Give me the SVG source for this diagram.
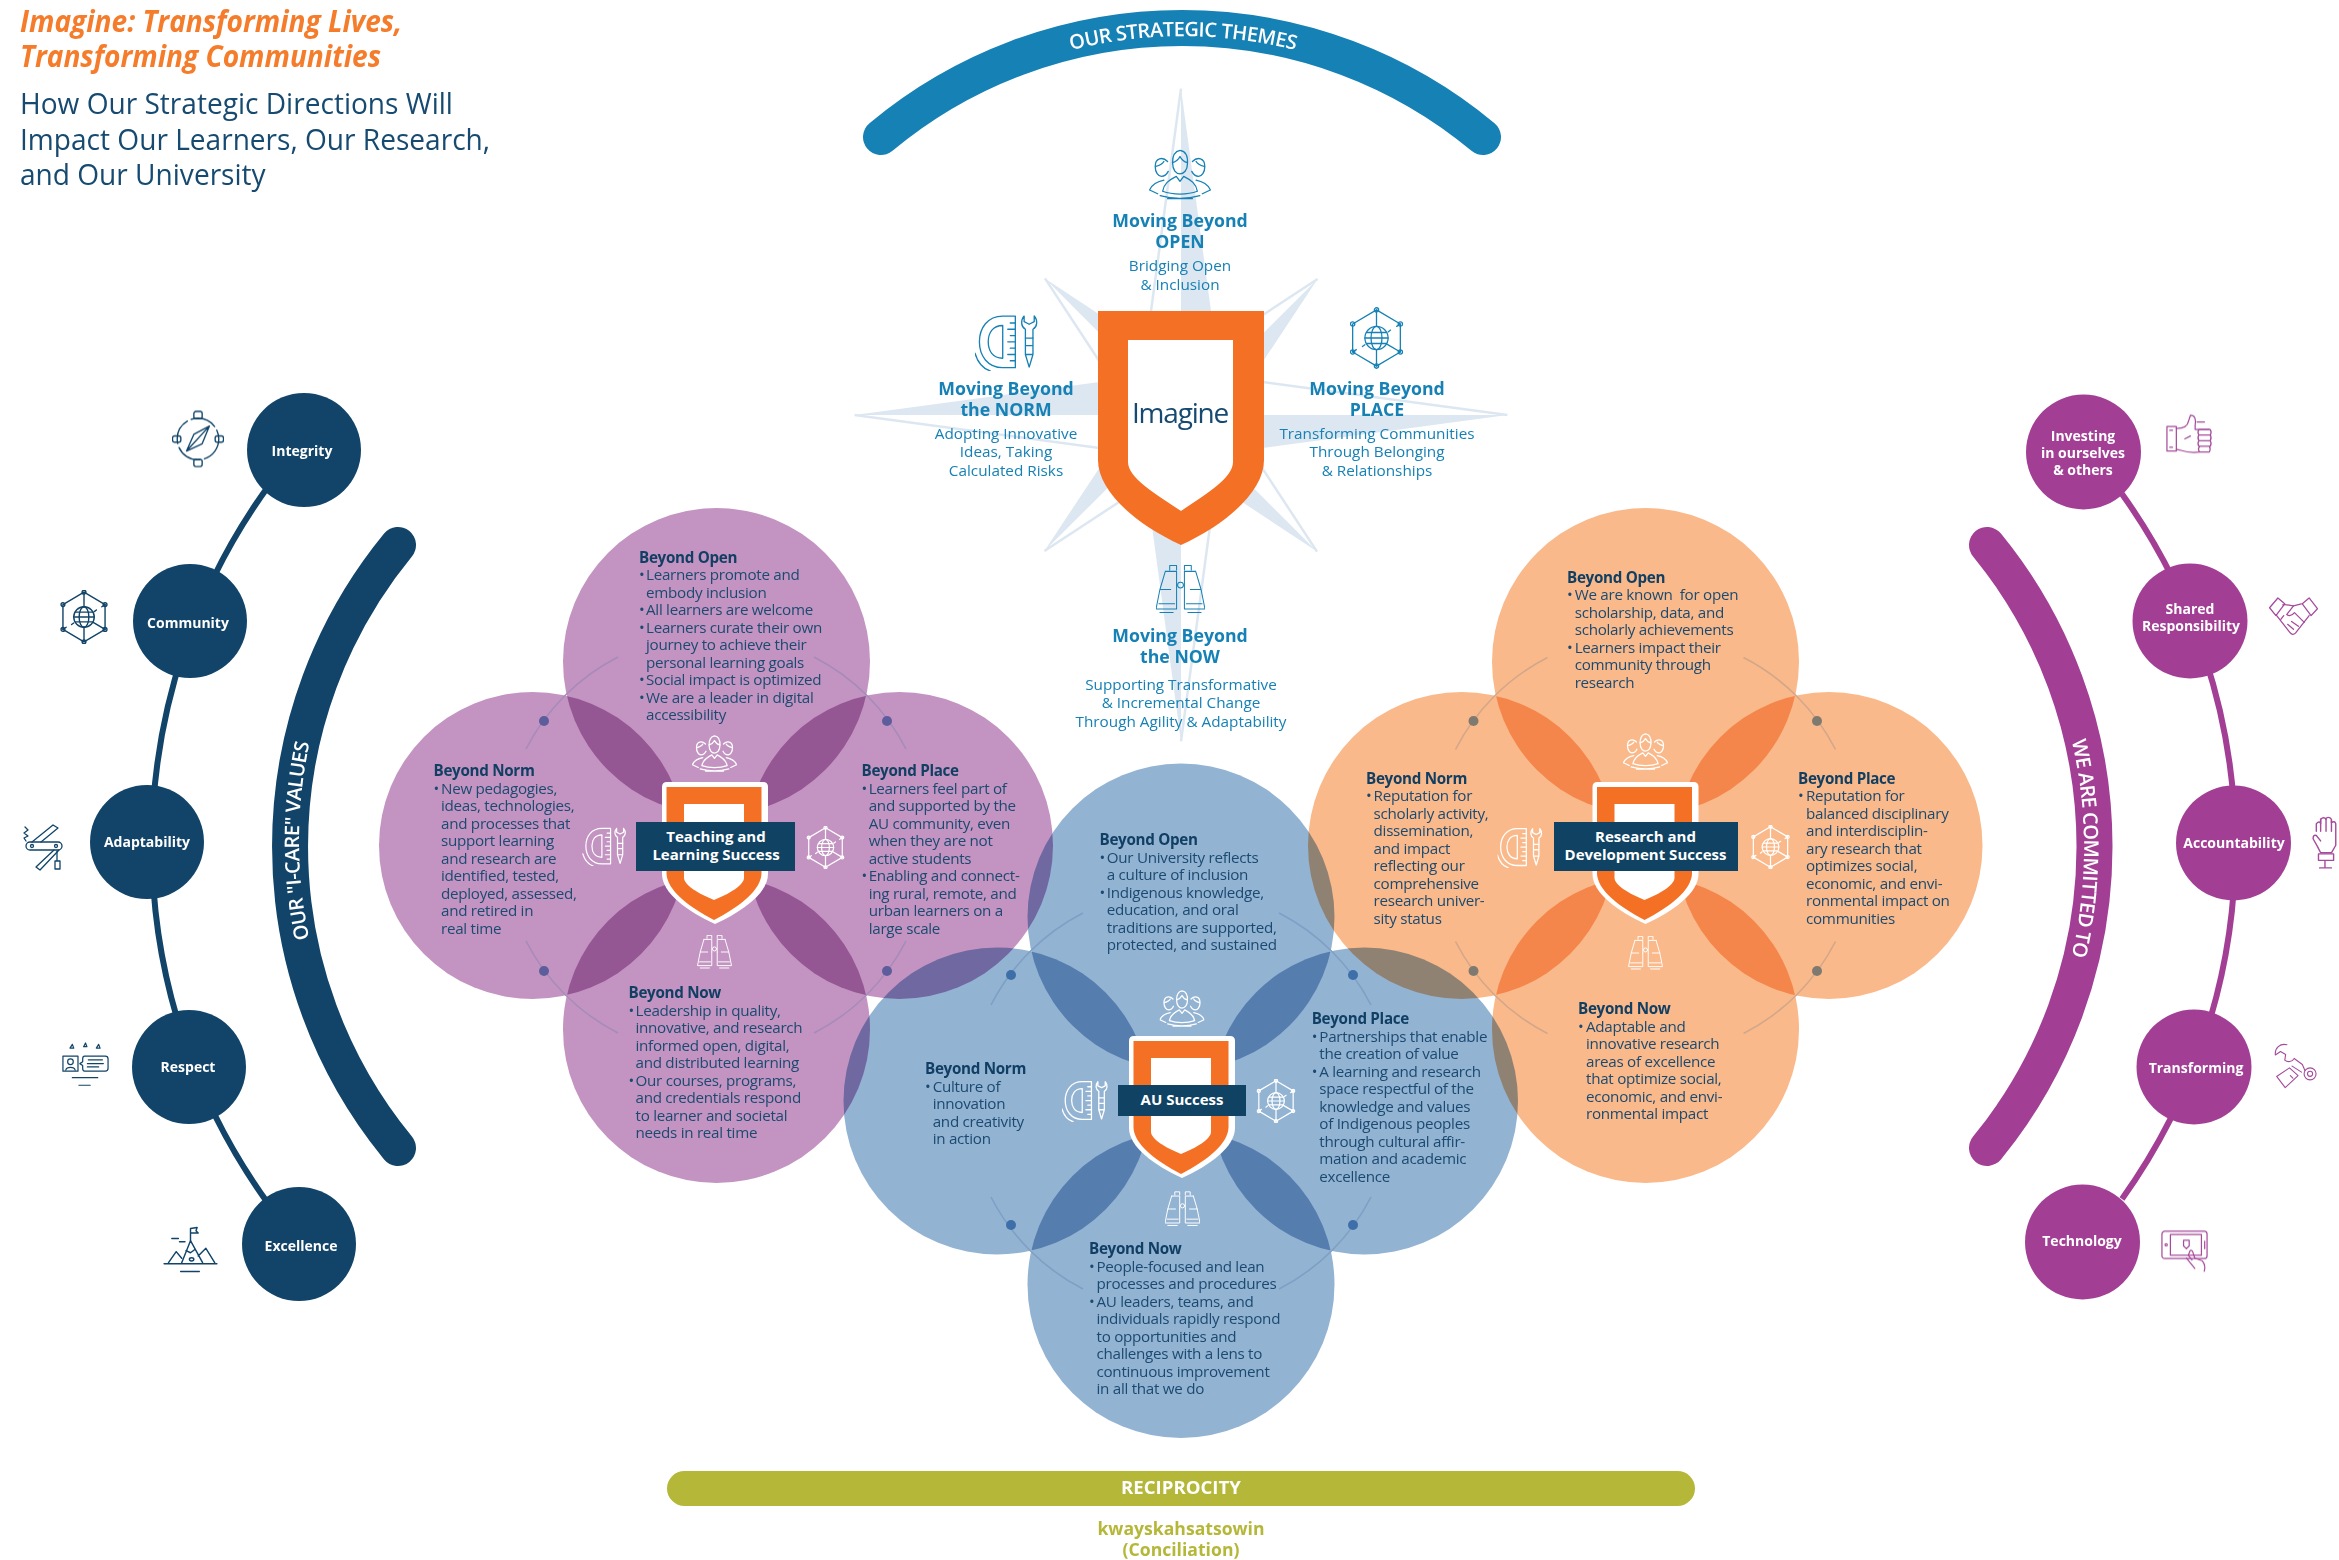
<svg xmlns="http://www.w3.org/2000/svg" width="2339" height="1560" viewBox="0 0 2339 1560">
<style>
text{font-family:"Open Sans","Noto Sans","Liberation Sans",sans-serif}
.bg{fill:#fff}
.c-p{fill:#c394c2;mix-blend-mode:multiply}
.c-b{fill:#93b3d3;mix-blend-mode:multiply}
.c-o{fill:#fab98a;mix-blend-mode:multiply}
.body{font-size:15.2px;letter-spacing:-.28px;fill:#1b4a70}
.head{font-weight:700;font-size:15.2px;letter-spacing:-.3px;fill:#113f63}
.ban{font-weight:700;font-size:15px;fill:#fff;text-anchor:middle}
.banr{fill:#0f4263}
.th{font-weight:700;font-size:17.7px;fill:#1681b5;text-anchor:middle}
.ts{font-size:15.3px;fill:#1681b5;text-anchor:middle}
.val{font-weight:700;font-size:14px;fill:#fff;text-anchor:middle}
.navy{fill:#114468}
.mag{fill:#a23f95}
.ic{fill:none;stroke-linecap:round;stroke-linejoin:round}
use.w{stroke:#fff;stroke-width:2.8}
use.lg{stroke:#1681b5;stroke-width:2.1}
use.nv{stroke:#114468;stroke-width:2.6}
use.mg{stroke:#a54b9b;stroke-width:2.6}
.star{fill:#dde7f1}
.staro{fill:none;stroke:#dde7f1;stroke-width:2.5;stroke-linejoin:round}
.arc{fill:none;stroke-width:1.6}
.bartext{font-size:20px;font-weight:600;fill:#fff;text-anchor:middle}
</style>
<defs>
<path id="sh-top" d="M1181,88.6 L1225,415 L1181,415 Z"/>
<path id="sh-top-o" d="M1181,88.6 L1137,415"/>
<path id="sh-diag" d="M1317.6,279 L1209,443 L1181,415 Z"/>
<path id="sh-diag-o" d="M1317.6,279 L1153,387"/>
<g id="mini-shield">
<path fill="#fff" d="M-48,-63 H48 Q53,-63 53,-58 V29 C53,48 28,66 0,79 C-28,66 -53,48 -53,29 V-58 Q-53,-63 -48,-63 Z"/>
<path fill="#f47024" d="M-48.500,-58 H46.500 V28 C46.500,45 24,62 -1,75 C-26,62 -48.500,45 -48.500,28 Z"/>
<path fill="#fff" d="M-31,-41 H29 V33 C29,40 14,49 -1,55 C-16,49 -31,40 -31,33 Z"/>
</g>
<g id="arcs">
<path class="arc" d="M-98,-188 A212,212 0 0 0 -190,-96 M98,-188 A212,212 0 0 1 190,-96 M-98,188 A212,212 0 0 1 -190,96 M98,188 A212,212 0 0 0 190,96"/>
</g>
<symbol id="i-people" viewBox="0 0 100 82"><g class="ic">
<path d="M38,22 C38,8 44,3 50,2 C58,3 63,10 62,24 C62,34 56,40 50,40 C44,40 38,34 38,22 Z"/>
<path d="M38,22 C44,20 48,16 50,12 C53,18 58,21 62,22"/>
<path d="M22,68 C24,56 32,50 44,44 L50,52 L56,44 C68,50 76,56 78,68 C62,74 38,74 22,68 Z"/>
<path d="M30,20 C22,12 10,14 10,28 C10,38 15,44 20,44 C24,44 28,42 31,36"/><path d="M11,28 C18,26 22,24 24,20"/>
<path d="M70,20 C78,12 90,14 90,28 C90,38 85,44 80,44 C76,44 72,42 69,36"/><path d="M89,28 C82,26 78,24 76,20"/>
<path d="M24,50 C14,52 4,58 1,66 L14,72 M76,50 C86,52 96,58 99,66 L86,72"/>
<path d="M18,75 Q50,84 82,75 M30,80 L70,80"/></g></symbol>
<symbol id="i-tools" viewBox="0 0 100 90"><g class="ic">
<path d="M64,3 H44 C20,3 7,22 7,44 C7,66 20,85 44,85 H64 Z"/>
<path d="M44,18 C28,18 21,30 21,44 C21,58 28,70 44,70 Z"/>
<path d="M56,14 H64 M52,24 H64 M56,34 H64 M52,44 H64 M56,54 H64 M52,64 H64 M56,74 H64"/>
<path d="M0,62 C4,76 12,86 24,90"/>
<path d="M78,3 C72,10 73,20 80,24 V38 H92 V24 C99,20 100,10 94,3 V12 L86,16 L78,12 Z"/>
<path d="M80,38 V64 L86,84 L92,64 V38 M80,50 H92 M80,64 H92"/></g></symbol>
<symbol id="i-globe" viewBox="0 0 90 100"><g class="ic">
<path d="M45,4 L84,27 V73 L45,96 L6,73 V27 Z"/>
<circle cx="45" cy="4" r="3.500"/><circle cx="84" cy="27" r="3.500"/><circle cx="84" cy="73" r="3.500"/><circle cx="45" cy="96" r="3.500"/><circle cx="6" cy="73" r="3.500"/><circle cx="6" cy="27" r="3.500"/>
<circle cx="45" cy="50" r="19"/><ellipse cx="45" cy="50" rx="9" ry="19"/><path d="M29,41 H61 M26,50 H64 M29,59 H61 M45,4 V31 M45,69 V96 M84,73 L62,60 M6,73 L12,69 M22,64 L26,61 M84,27 L78,31 M68,37 L64,40"/></g></symbol>
<symbol id="i-bino" viewBox="0 0 100 100"><g class="ic">
<path d="M28,10 V1 H42 V10 M19,13 H42 V50 M19,13 L8,50 H30 M8,50 L0,90 H42 V50 M6,79 H38 M8,97 H35"/>
<path d="M58,10 V1 H72 V10 M81,13 H58 V50 M81,13 L92,50 H70 M92,50 L100,90 H58 V50 M62,79 H94 M65,97 H92"/>
<circle cx="50" cy="41" r="6"/></g></symbol>
<symbol id="i-compass" viewBox="0 0 100 110"><g class="ic">
<circle cx="50" cy="55" r="40" stroke-dasharray="50 8"/>
<rect x="42" y="2" width="16" height="14" rx="4"/><rect x="42" y="94" width="16" height="14" rx="4"/><rect x="1" y="49" width="16" height="12" rx="4"/><rect x="83" y="49" width="16" height="12" rx="4"/>
<path d="M72,30 L28,78 L58,64 Z M72,30 L42,46 L28,78"/></g></symbol>
<symbol id="i-knife" viewBox="0 0 80 100"><g class="ic">
<rect x="6" y="42" width="72" height="16" rx="8"/><circle cx="18" cy="50" r="3"/><circle cx="66" cy="50" r="3"/>
<path d="M18,42 L60,8 L70,14 L36,42"/><path d="M6,40 L2,34 L10,30 L2,24 L10,18 L4,12"/>
<path d="M62,58 L26,92 L34,98 L72,58"/><path d="M68,60 V78 M64,80 H74 V96 H64 Z"/></g></symbol>
<symbol id="i-review" viewBox="0 0 100 100"><g class="ic">
<path d="M22,5 L25,13 L17,13 Z M50,2 L53,10 L46,10 Z M78,5 L81,13 L73,13 Z"/>
<rect x="2" y="30" width="32" height="32"/>
<circle cx="18" cy="42" r="6"/><path d="M8,60 C10,52 26,52 28,60"/>
<path d="M48,30 H92 Q98,30 98,36 V56 Q98,62 92,62 H48 Q44,62 44,56 V50 L38,46 L44,42 V36 Q44,30 48,30 Z"/>
<path d="M56,38 H86 M54,46 H88 M54,53 H78 M22,76 H76 M36,92 H60"/></g></symbol>
<symbol id="i-mount" viewBox="0 0 100 90"><g class="ic">
<path d="M2,70 H98 M10,68 L24,48 L34,60 M34,68 L50,28 L72,68 M64,56 L78,42 L94,68"/>
<path d="M42,46 L50,50 L58,44 M50,28 V6 L62,4 L60,10 L64,14 L50,14"/>
<ellipse cx="52" cy="62" rx="4" ry="3"/><path d="M16,24 H28 M30,30 H40 M32,84 H66"/></g></symbol>
<symbol id="i-thumb" viewBox="0 0 100 90"><g class="ic">
<path d="M2,26 H22 V78 H2 Z M8,34 H14 M8,70 H14"/>
<path d="M22,30 C36,30 46,26 48,14 L52,2 C62,2 64,10 62,24 V32 H92"/>
<path d="M70,32 H94 Q98,38 94,44 H70 Q66,38 70,32 M70,44 H94 Q98,50 94,56 H70 Q66,50 70,44 M70,56 H94 Q98,62 94,68 H70 Q66,62 70,56 M72,68 H92 Q96,74 92,80 H72 Q66,74 72,68 M22,74 C34,76 44,84 72,80 M66,16 H82 M40,52 L52,46"/></g></symbol>
<symbol id="i-shake" viewBox="0 0 100 86"><g class="ic">
<path d="M1,22 L18,2 L32,14 L14,38 Z M99,24 L82,2 L68,14 L86,38 Z"/>
<path d="M28,16 C36,14 42,18 50,18 L66,14 M14,36 L42,72 Q48,80 54,74 L82,38"/>
<path d="M50,18 L36,36 Q44,42 52,32 L72,52 M60,60 L46,50 M50,66 L38,56 M30,38 L24,46"/></g></symbol>
<symbol id="i-hand" viewBox="0 0 50 100"><g class="ic">
<path d="M8,30 V16 Q14,10 16,16 V8 Q22,2 26,8 V6 Q32,2 36,8 V14 Q42,10 44,16 V56 L36,70 H16 L10,58 L2,44 Q2,36 8,38 L16,48"/>
<path d="M16,8 V30 M26,8 V30 M36,10 V30 M12,72 H40 V84 H12 Z M24,84 V98 M14,98 H36"/></g></symbol>
<symbol id="i-wrench" viewBox="0 0 100 112"><g class="ic">
<path d="M30,4 C14,0 1,12 3,28 L15,20 L27,27 L25,40 C32,46 42,44 47,36 L66,50 L72,64 M42,54 L64,68"/>
<circle cx="84" cy="72" r="14"/><circle cx="84" cy="72" r="6"/>
<path d="M6,78 L36,58 L56,76 L26,104 Z M38,76 L44,82"/></g></symbol>
<symbol id="i-tablet" viewBox="0 0 100 90"><g class="ic">
<rect x="2" y="3" width="96" height="58" rx="6"/><rect x="20" y="10" width="66" height="44"/><circle cx="11" cy="32" r="2.500"/><path d="M93,24 V40"/>
<path d="M48,22 H60 V34 L54,40 L48,34 Z"/>
<path d="M58,54 L62,44 Q66,42 68,48 L72,60 L88,66 Q96,76 92,88 M58,54 L66,64 M54,60 L72,82"/></g></symbol>
</defs>
<rect class="bg" width="2339" height="1560"/>

<g id="title">
<text transform="translate(20,0) scale(.936,1)" font-weight="700" font-style="italic" font-size="30" fill="#f47c2a"><tspan x="0" y="32">Imagine: Transforming Lives,</tspan><tspan x="0" y="67">Transforming Communities</tspan></text>
<text transform="translate(20,0) scale(.936,1)" font-size="30" fill="#164a70"><tspan x="0" y="114">How Our Strategic Directions Will</tspan><tspan x="0" y="150">Impact Our Learners, Our Research,</tspan><tspan x="0" y="185">and Our University</tspan></text>
</g>

<g id="compass-star">
<use href="#sh-top" class="star"/><use href="#sh-top-o" class="staro"/>
<use href="#sh-top" class="star" transform="rotate(90 1181 415)"/><use href="#sh-top-o" class="staro" transform="rotate(90 1181 415)"/>
<use href="#sh-top" class="star" transform="rotate(180 1181 415)"/><use href="#sh-top-o" class="staro" transform="rotate(180 1181 415)"/>
<use href="#sh-top" class="star" transform="rotate(270 1181 415)"/><use href="#sh-top-o" class="staro" transform="rotate(270 1181 415)"/>
<use href="#sh-diag" class="star"/><use href="#sh-diag-o" class="staro"/>
<use href="#sh-diag" class="star" transform="rotate(90 1181 415)"/><use href="#sh-diag-o" class="staro" transform="rotate(90 1181 415)"/>
<use href="#sh-diag" class="star" transform="rotate(180 1181 415)"/><use href="#sh-diag-o" class="staro" transform="rotate(180 1181 415)"/>
<use href="#sh-diag" class="star" transform="rotate(270 1181 415)"/><use href="#sh-diag-o" class="staro" transform="rotate(270 1181 415)"/>
</g>

<g id="strategic-themes">
<path d="M881,137 A470,470 0 0 1 1483,137" fill="none" stroke="#1681b5" stroke-width="36" stroke-linecap="round"/>
<path id="tp-top" d="M783,269 A460,460 0 0 1 1583,269" fill="none"/>
<text class="bartext" letter-spacing="-.5"><textPath href="#tp-top" startOffset="50%">OUR STRATEGIC THEMES</textPath></text>
</g>

<g id="imagine-shield">
<path fill="#f47024" d="M1098,311 H1264 V460 C1264,492 1225,525 1181,545 C1137,525 1098,492 1098,460 Z"/>
<path fill="#fff" d="M1128,340 H1233 V462 C1233,478 1205,495 1181,511 C1157,495 1128,478 1128,462 Z"/>
<text x="1180" y="423" font-size="28" letter-spacing="-1.2" fill="#164a70" text-anchor="middle">Imagine</text>
</g>

<g id="theme-open">
<use href="#i-people" x="1149" y="149" width="62" height="51" class="lg"/>
<text class="th"><tspan x="1180" y="227">Moving Beyond</tspan><tspan x="1180" y="248">OPEN</tspan></text>
<text class="ts"><tspan x="1180" y="271">Bridging Open</tspan><tspan x="1180" y="290">&amp; Inclusion</tspan></text>
</g>
<g id="theme-norm">
<use href="#i-tools" x="975" y="314" width="63" height="57" class="lg"/>
<text class="th"><tspan x="1006" y="395">Moving Beyond</tspan><tspan x="1006" y="416">the NORM</tspan></text>
<text class="ts"><tspan x="1006" y="439">Adopting Innovative</tspan><tspan x="1006" y="457">Ideas, Taking</tspan><tspan x="1006" y="476">Calculated Risks</tspan></text>
</g>
<g id="theme-place">
<use href="#i-globe" x="1349" y="307" width="55" height="62" class="lg"/>
<text class="th"><tspan x="1377" y="395">Moving Beyond</tspan><tspan x="1377" y="416">PLACE</tspan></text>
<text class="ts"><tspan x="1377" y="439">Transforming Communities</tspan><tspan x="1377" y="457">Through Belonging</tspan><tspan x="1377" y="476">&amp; Relationships</tspan></text>
</g>
<g id="theme-now">
<use href="#i-bino" x="1156" y="563" width="49" height="53" class="lg"/>
<text class="th"><tspan x="1180" y="642">Moving Beyond</tspan><tspan x="1180" y="663">the NOW</tspan></text>
<text class="ts"><tspan x="1181" y="690">Supporting Transformative</tspan><tspan x="1181" y="708">&amp; Incremental Change</tspan><tspan x="1181" y="727">Through Agility &amp; Adaptability</tspan></text>
</g>

<g id="venn-circles">
<g id="venn-purple"><circle class="c-p" cx="716.500" cy="661.500" r="153.500"/><circle class="c-p" cx="532.500" cy="845.500" r="153.500"/><circle class="c-p" cx="899.500" cy="845.500" r="153.500"/><circle class="c-p" cx="716.500" cy="1029.500" r="153.500"/></g>
<g id="venn-orange"><circle class="c-o" cx="1645.500" cy="661.500" r="153.500"/><circle class="c-o" cx="1461.500" cy="845.500" r="153.500"/><circle class="c-o" cx="1829" cy="845.500" r="153.500"/><circle class="c-o" cx="1645.500" cy="1029.500" r="153.500"/></g>
<g id="venn-blue"><circle class="c-b" cx="1181" cy="917" r="153.500"/><circle class="c-b" cx="997" cy="1101" r="153.500"/><circle class="c-b" cx="1364.500" cy="1101" r="153.500"/><circle class="c-b" cx="1181" cy="1284.500" r="153.500"/></g>
</g>

<g id="connectors">
<use href="#arcs" transform="translate(716,845)" stroke="#a68bb9"/>
<use href="#arcs" transform="translate(1645.500,845.500)" stroke="#d2a78a"/>
<use href="#arcs" transform="translate(1181,1101)" stroke="#7f9fc4"/>
<g fill="#5e5d9c"><circle cx="544" cy="721" r="5"/><circle cx="887" cy="721" r="5"/><circle cx="544" cy="971" r="5"/><circle cx="887" cy="971" r="5"/></g>
<g fill="#7f7a70"><circle cx="1473.500" cy="721" r="5"/><circle cx="1817" cy="721" r="5"/><circle cx="1473.500" cy="971" r="5"/><circle cx="1817" cy="971" r="5"/></g>
<g fill="#3e6fa8"><circle cx="1011" cy="975" r="5"/><circle cx="1353" cy="975" r="5"/><circle cx="1011" cy="1225" r="5"/><circle cx="1353" cy="1225" r="5"/></g>
<path d="M270,484 A611,611 0 0 0 270,1206" fill="none" stroke="#114468" stroke-width="6"/>
<path d="M2122,494 A605,605 0 0 1 2122,1199" fill="none" stroke="#a23f95" stroke-width="6"/>
</g>

<g id="teaching-success">
<use href="#mini-shield" transform="translate(715,845)"/>
<rect class="banr" x="636" y="822" width="159" height="49"/>
<text class="ban"><tspan x="716" y="842">Teaching and</tspan><tspan x="716" y="860">Learning Success</tspan></text>
<use href="#i-people" x="692" y="735" width="45" height="37" class="w"/>
<use href="#i-tools" x="582" y="827" width="45" height="39" class="w"/>
<use href="#i-globe" x="806" y="826" width="39" height="43" class="w"/>
<use href="#i-bino" x="697" y="935" width="35" height="34" class="w"/>
<text class="head" x="639" y="562.500">Beyond Open</text>
<text class="body"><tspan x="639" y="580">•</tspan><tspan x="646">Learners promote and</tspan><tspan x="646" dy="17.500">embody inclusion</tspan><tspan x="639" dy="17.500">•</tspan><tspan x="646">All learners are welcome</tspan><tspan x="639" dy="17.500">•</tspan><tspan x="646">Learners curate their own</tspan><tspan x="646" dy="17.500">journey to achieve their</tspan><tspan x="646" dy="17.500">personal learning goals</tspan><tspan x="639" dy="17.500">•</tspan><tspan x="646">Social impact is optimized</tspan><tspan x="639" dy="17.500">•</tspan><tspan x="646">We are a leader in digital</tspan><tspan x="646" dy="17.500">accessibility</tspan></text>
<text class="head" x="433.500" y="776">Beyond Norm</text>
<text class="body"><tspan x="433.500" y="793.500">•</tspan><tspan x="441">New pedagogies,</tspan><tspan x="441" dy="17.500">ideas, technologies,</tspan><tspan x="441" dy="17.500">and processes that</tspan><tspan x="441" dy="17.500">support learning</tspan><tspan x="441" dy="17.500">and research are</tspan><tspan x="441" dy="17.500">identified, tested,</tspan><tspan x="441" dy="17.500">deployed, assessed,</tspan><tspan x="441" dy="17.500">and retired in</tspan><tspan x="441" dy="17.500">real time</tspan></text>
<text class="head" x="861.500" y="776">Beyond Place</text>
<text class="body"><tspan x="861.500" y="793.500">•</tspan><tspan x="868.700">Learners feel part of</tspan><tspan x="868.700" dy="17.500">and supported by the</tspan><tspan x="868.700" dy="17.500">AU community, even</tspan><tspan x="868.700" dy="17.500">when they are not</tspan><tspan x="868.700" dy="17.500">active students</tspan><tspan x="861.500" dy="17.500">•</tspan><tspan x="868.700">Enabling and connect-</tspan><tspan x="868.700" dy="17.500">ing rural, remote, and</tspan><tspan x="868.700" dy="17.500">urban learners on a</tspan><tspan x="868.700" dy="17.500">large scale</tspan></text>
<text class="head" x="628.500" y="998">Beyond Now</text>
<text class="body"><tspan x="628.500" y="1015.500">•</tspan><tspan x="635.500">Leadership in quality,</tspan><tspan x="635.500" dy="17.500">innovative, and research</tspan><tspan x="635.500" dy="17.500">informed open, digital,</tspan><tspan x="635.500" dy="17.500">and distributed learning</tspan><tspan x="628.500" dy="17.500">•</tspan><tspan x="635.500">Our courses, programs,</tspan><tspan x="635.500" dy="17.500">and credentials respond</tspan><tspan x="635.500" dy="17.500">to learner and societal</tspan><tspan x="635.500" dy="17.500">needs in real time</tspan></text>
</g>

<g id="research-success">
<use href="#mini-shield" transform="translate(1645.500,845)"/>
<rect class="banr" x="1554" y="822" width="184" height="49"/>
<text class="ban"><tspan x="1645.500" y="842">Research and</tspan><tspan x="1645.500" y="860">Development Success</tspan></text>
<use href="#i-people" x="1623" y="733" width="45" height="37" class="w"/>
<use href="#i-tools" x="1497.500" y="827" width="45" height="41" class="w"/>
<use href="#i-globe" x="1750.500" y="825" width="40" height="44" class="w"/>
<use href="#i-bino" x="1628" y="936" width="35" height="34" class="w"/>
<text class="head" x="1567" y="582.500">Beyond Open</text>
<text class="body"><tspan x="1567" y="600">•</tspan><tspan x="1574.700">We are known&#160; for open</tspan><tspan x="1574.700" dy="17.500">scholarship, data, and</tspan><tspan x="1574.700" dy="17.500">scholarly achievements</tspan><tspan x="1567" dy="17.500">•</tspan><tspan x="1574.700">Learners impact their</tspan><tspan x="1574.700" dy="17.500">community through</tspan><tspan x="1574.700" dy="17.500">research</tspan></text>
<text class="head" x="1366" y="783.500">Beyond Norm</text>
<text class="body"><tspan x="1366" y="801">•</tspan><tspan x="1373.600">Reputation for</tspan><tspan x="1373.600" dy="17.500">scholarly activity,</tspan><tspan x="1373.600" dy="17.500">dissemination,</tspan><tspan x="1373.600" dy="17.500">and impact</tspan><tspan x="1373.600" dy="17.500">reflecting our</tspan><tspan x="1373.600" dy="17.500">comprehensive</tspan><tspan x="1373.600" dy="17.500">research univer-</tspan><tspan x="1373.600" dy="17.500">sity status</tspan></text>
<text class="head" x="1798" y="783.500">Beyond Place</text>
<text class="body"><tspan x="1798" y="801">•</tspan><tspan x="1806">Reputation for</tspan><tspan x="1806" dy="17.500">balanced disciplinary</tspan><tspan x="1806" dy="17.500">and interdisciplin-</tspan><tspan x="1806" dy="17.500">ary research that</tspan><tspan x="1806" dy="17.500">optimizes social,</tspan><tspan x="1806" dy="17.500">economic, and envi-</tspan><tspan x="1806" dy="17.500">ronmental impact on</tspan><tspan x="1806" dy="17.500">communities</tspan></text>
<text class="head" x="1578" y="1014">Beyond Now</text>
<text class="body"><tspan x="1578" y="1031.500">•</tspan><tspan x="1586">Adaptable and</tspan><tspan x="1586" dy="17.500">innovative research</tspan><tspan x="1586" dy="17.500">areas of excellence</tspan><tspan x="1586" dy="17.500">that optimize social,</tspan><tspan x="1586" dy="17.500">economic, and envi-</tspan><tspan x="1586" dy="17.500">ronmental impact</tspan></text>
</g>

<g id="au-success">
<use href="#mini-shield" transform="translate(1182,1099)"/>
<rect class="banr" x="1118" y="1085" width="128" height="31"/>
<text class="ban" x="1182" y="1105">AU Success</text>
<use href="#i-people" x="1159.500" y="990" width="45" height="37" class="w"/>
<use href="#i-tools" x="1062" y="1080" width="46" height="42" class="w"/>
<use href="#i-globe" x="1256" y="1079" width="40" height="44" class="w"/>
<use href="#i-bino" x="1165" y="1191" width="35" height="36" class="w"/>
<text class="head" x="1099.500" y="845">Beyond Open</text>
<text class="body"><tspan x="1099.500" y="862.500">•</tspan><tspan x="1106.800">Our University reflects</tspan><tspan x="1106.800" dy="17.500">a culture of inclusion</tspan><tspan x="1099.500" dy="17.500">•</tspan><tspan x="1106.800">Indigenous knowledge,</tspan><tspan x="1106.800" dy="17.500">education, and oral</tspan><tspan x="1106.800" dy="17.500">traditions are supported,</tspan><tspan x="1106.800" dy="17.500">protected, and sustained</tspan></text>
<text class="head" x="925" y="1074">Beyond Norm</text>
<text class="body"><tspan x="925" y="1091.500">•</tspan><tspan x="932.700">Culture of</tspan><tspan x="932.700" dy="17.500">innovation</tspan><tspan x="932.700" dy="17.500">and creativity</tspan><tspan x="932.700" dy="17.500">in action</tspan></text>
<text class="head" x="1311.700" y="1024">Beyond Place</text>
<text class="body"><tspan x="1311.700" y="1041.500">•</tspan><tspan x="1319.300">Partnerships that enable</tspan><tspan x="1319.300" dy="17.500">the creation of value</tspan><tspan x="1311.700" dy="17.500">•</tspan><tspan x="1319.300">A learning and research</tspan><tspan x="1319.300" dy="17.500">space respectful of the</tspan><tspan x="1319.300" dy="17.500">knowledge and values</tspan><tspan x="1319.300" dy="17.500">of Indigenous peoples</tspan><tspan x="1319.300" dy="17.500">through cultural affir-</tspan><tspan x="1319.300" dy="17.500">mation and academic</tspan><tspan x="1319.300" dy="17.500">excellence</tspan></text>
<text class="head" x="1089" y="1254">Beyond Now</text>
<text class="body"><tspan x="1089" y="1271.500">•</tspan><tspan x="1096.500">People-focused and lean</tspan><tspan x="1096.500" dy="17.500">processes and procedures</tspan><tspan x="1089" dy="17.500">•</tspan><tspan x="1096.500">AU leaders, teams, and</tspan><tspan x="1096.500" dy="17.500">individuals rapidly respond</tspan><tspan x="1096.500" dy="17.500">to opportunities and</tspan><tspan x="1096.500" dy="17.500">challenges with a lens to</tspan><tspan x="1096.500" dy="17.500">continuous improvement</tspan><tspan x="1096.500" dy="17.500">in all that we do</tspan></text>
</g>

<g id="icare-bar">
<path d="M398,545 A475,475 0 0 0 398,1148" fill="none" stroke="#114468" stroke-width="36" stroke-linecap="round"/>
<path id="tp-left" d="M360,1071.700 A467,467 0 0 1 360,610.300" fill="none"/>
<text class="bartext" letter-spacing="-.55"><textPath href="#tp-left" startOffset="50%">OUR "I-CARE" VALUES</textPath></text>
</g>
<g id="commit-bar">
<path d="M1987,545 A476.500,476.500 0 0 1 1987,1148" fill="none" stroke="#a23f95" stroke-width="36" stroke-linecap="round"/>
<path id="tp-right" d="M2025,620.300 A468,468 0 0 1 2025,1075.700" fill="none"/>
<text class="bartext" letter-spacing="-.7"><textPath href="#tp-right" startOffset="50%">WE ARE COMMITTED TO</textPath></text>
</g>

<g id="value-integrity"><circle class="navy" cx="304" cy="450" r="57"/><text class="val" x="302" y="456">Integrity</text><use href="#i-compass" x="172" y="410" width="52" height="58" class="nv"/></g>
<g id="value-community"><circle class="navy" cx="190" cy="621" r="57"/><text class="val" x="188" y="628">Community</text><use href="#i-globe" x="59" y="590" width="50" height="54" class="nv"/></g>
<g id="value-adaptability"><circle class="navy" cx="147" cy="842" r="57"/><text class="val" x="147" y="847">Adaptability</text><use href="#i-knife" x="23" y="821" width="40" height="50" class="nv"/></g>
<g id="value-respect"><circle class="navy" cx="189" cy="1067" r="57"/><text class="val" x="188" y="1072">Respect</text><use href="#i-review" x="62" y="1040" width="47" height="51" class="nv"/></g>
<g id="value-excellence"><circle class="navy" cx="299" cy="1244" r="57"/><text class="val" x="301" y="1250.500">Excellence</text><use href="#i-mount" x="163" y="1225" width="55" height="50" class="nv"/></g>

<g id="commit-investing"><circle class="mag" cx="2083.500" cy="452" r="57.500"/><text class="val"><tspan x="2083" y="441">Investing</tspan><tspan x="2083" y="458">in ourselves</tspan><tspan x="2083" y="475">&amp; others</tspan></text><use href="#i-thumb" x="2166" y="413" width="47" height="45" class="mg"/></g>
<g id="commit-shared"><circle class="mag" cx="2190" cy="621" r="57.500"/><text class="val"><tspan x="2190" y="614">Shared</tspan><tspan x="2191" y="631">Responsibility</tspan></text><use href="#i-shake" x="2269" y="597" width="49" height="42" class="mg"/></g>
<g id="commit-accountability"><circle class="mag" cx="2233.500" cy="843" r="57.500"/><text class="val" x="2234" y="848">Accountability</text><use href="#i-hand" x="2312" y="815" width="27" height="54" class="mg"/></g>
<g id="commit-transforming"><circle class="mag" cx="2194" cy="1067" r="57.500"/><text class="val" x="2196" y="1072.500">Transforming</text><use href="#i-wrench" x="2274" y="1043" width="43" height="48" class="mg"/></g>
<g id="commit-technology"><circle class="mag" cx="2082.500" cy="1242" r="57.500"/><text class="val" x="2082" y="1246">Technology</text><use href="#i-tablet" x="2161" y="1229" width="47" height="44" class="mg"/></g>

<g id="reciprocity">
<rect x="667" y="1471" width="1028" height="35" rx="17.500" fill="#b5b738"/>
<text x="1181" y="1494" font-size="18.6" font-weight="700" fill="#fff" text-anchor="middle">RECIPROCITY</text>
<text font-size="17.6" font-weight="700" fill="#b5b738" text-anchor="middle"><tspan x="1181" y="1535">kwayskahsatsowin</tspan><tspan x="1181" y="1556">(Conciliation)</tspan></text>
</g>
</svg>
